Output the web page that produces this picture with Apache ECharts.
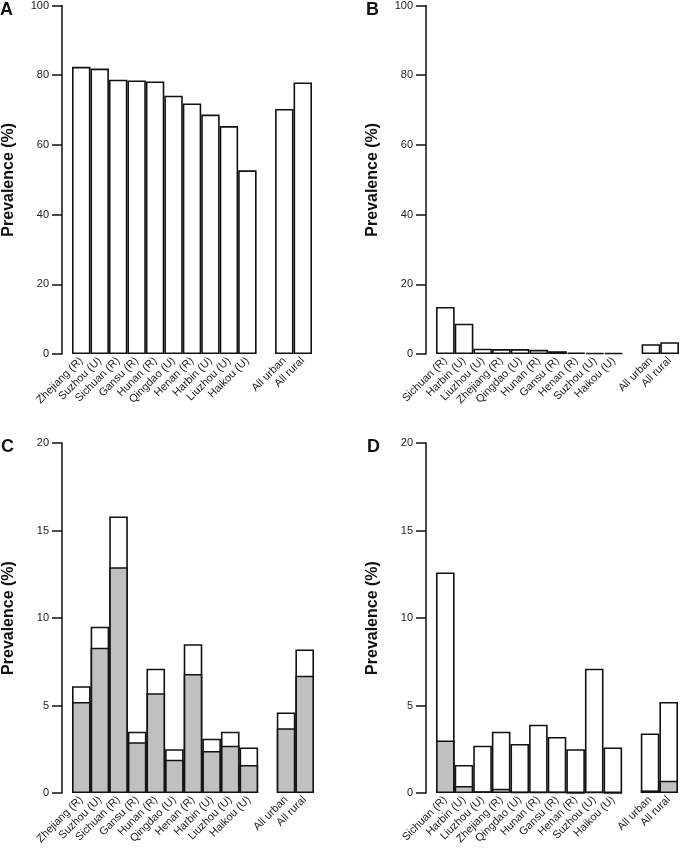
<!DOCTYPE html>
<html>
<head>
<meta charset="utf-8">
<script src="https://cdn.jsdelivr.net/npm/echarts@6/dist/echarts.min.js"></script>
<style>
html,body{margin:0;padding:0;background:#fff;}
#chart{width:682px;height:849px;}
</style>
</head>
<body>
<div id="chart"></div>
<script>
// ---- Data ----
const categoriesA = ['Zhejiang (R)','Suzhou (U)','Sichuan (R)','Gansu (R)','Hunan (R)','Qingdao (U)','Henan (R)','Harbin (U)','Liuzhou (U)','Haikou (U)','','All urban','All rural'];
const valuesA = [82.4,81.9,78.7,78.5,78.2,74.1,71.9,68.7,65.4,52.7,null,70.3,77.9];

const categoriesB = ['Sichuan (R)','Harbin (U)','Liuzhou (U)','Zhejiang (R)','Qingdao (U)','Hunan (R)','Gansu (R)','Henan (R)','Suzhou (U)','Haikou (U)','','All urban','All rural'];
const valuesB = [13.5,8.7,1.5,1.4,1.4,1.2,0.8,0.4,0.3,0.3,null,2.8,3.4];

const categoriesC = categoriesA;
const totalC = [6.1,9.5,15.8,3.5,7.1,2.5,8.5,3.1,3.5,2.6,null,4.6,8.2];
const grayC  = [5.2,8.3,12.9,2.9,5.7,1.9,6.8,2.4,2.7,1.6,null,3.7,6.7];

const categoriesD = categoriesB;
const totalD = [12.6,1.6,2.7,3.5,2.8,3.9,3.2,2.5,7.1,2.6,null,3.4,5.2];
const grayD  = [3.0,0.4,0.1,0.25,0.05,0.05,0.05,0,0.05,0,null,0.15,0.7];

const ticksAB = {max:100, interval:20};
const ticksCD = {max:20, interval:5};

// ---- Chart ----
const FONT = '"Liberation Sans", Arial, Helvetica, sans-serif';
const chart = echarts.init(document.getElementById('chart'), null, {renderer:'canvas'});

const grids = [
  {left:69, top:5, width:243, height:349},
  {left:436, top:5, width:243, height:349},
  {left:72, top:443, width:242, height:350},
  {left:436, top:443, width:242, height:350}
];

function xAx(i, cats){
  return {
    type:'category', gridIndex:i, data:cats,
    axisLine:{show:false}, axisTick:{show:false},
    axisLabel:{interval:0, rotate:45, margin:5, fontSize:11, color:'#222', fontFamily:FONT}
  };
}
function yAx(i, t){
  return {
    type:'value', gridIndex:i, min:0, max:t.max, interval:t.interval, offset:10,
    name:'Prevalence (%)', nameLocation:'middle', nameGap:45,
    nameTextStyle:{fontSize:16, fontWeight:'bold', color:'#111', fontFamily:FONT},
    axisLine:{show:true, lineStyle:{color:'#111', width:1.5}},
    axisTick:{show:true, length:10, lineStyle:{color:'#111', width:1.5}},
    axisLabel:{fontSize:11, color:'#222', margin:13, fontFamily:FONT},
    splitLine:{show:false}
  };
}
const whiteStyle = {color:'#fff', borderColor:'#111', borderWidth:1.6};
const grayStyle = {color:'#c0c0c0', borderColor:'#111', borderWidth:1.6};

function bar(i, data, style){
  return {type:'bar', xAxisIndex:i, yAxisIndex:i, data:data, itemStyle:style,
    barCategoryGap:'0%', barGap:'-100%', silent:true, animation:false};
}
const letterStyle = {fontSize:18, fontWeight:'bold', color:'#111', fontFamily:FONT};

const option = {
  animation:false,
  textStyle:{fontFamily:FONT},
  title:[
    {text:'A', left:0, top:1, padding:0, textStyle:letterStyle},
    {text:'B', left:366, top:1, padding:0, textStyle:letterStyle},
    {text:'C', left:1, top:438, padding:0, textStyle:letterStyle},
    {text:'D', left:367, top:438, padding:0, textStyle:letterStyle}
  ],
  grid:grids,
  xAxis:[xAx(0,categoriesA), xAx(1,categoriesB), xAx(2,categoriesC), xAx(3,categoriesD)],
  yAxis:[yAx(0,ticksAB), yAx(1,ticksAB), yAx(2,ticksCD), yAx(3,ticksCD)],
  series:[
    bar(0, valuesA, whiteStyle),
    bar(1, valuesB, whiteStyle),
    bar(2, totalC, whiteStyle),
    bar(2, grayC, grayStyle),
    bar(3, totalD, whiteStyle),
    bar(3, grayD, grayStyle)
  ]
};
chart.setOption(option);
</script>
</body>
</html>
